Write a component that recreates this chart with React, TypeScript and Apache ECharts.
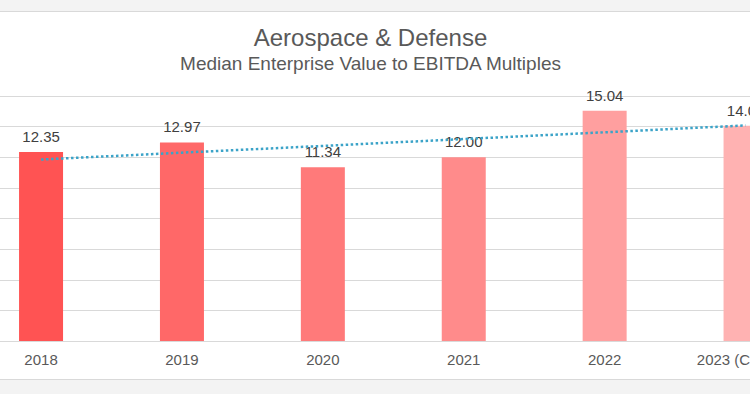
import React, { useEffect, useRef } from "react";
import * as echarts from "echarts";

const categories = ["2018", "2019", "2020", "2021", "2022", "2023 (Current)"];
const multiples = [12.35, 12.97, 11.34, 12.0, 15.04, 14.05];
const trendValues = [11.85, 12.3, 12.74, 13.19, 13.63, 14.08];
const barColors = ["#FF5353", "#FF6868", "#FF7A7A", "#FF8B8B", "#FF9F9F", "#FFB2B2"];
const yTicks = { min: 0, max: 16, interval: 2 };

const SHIFT = 60;
const CHART_W = 910;

export default function App() {
  const ref = useRef<HTMLDivElement>(null);
  useEffect(() => {
    document.body.style.margin = "0";
    const chart = echarts.init(ref.current!, undefined, { renderer: "svg" });
    const font = "'Liberation Sans', Arial, sans-serif";
    chart.setOption({
      animation: false,
      textStyle: { fontFamily: font },
      graphic: [
        {
          type: "text",
          x: 370.5 + SHIFT,
          y: 37,
          style: {
            text: "Aerospace & Defense",
            fill: "#595959",
            fontSize: 24,
            fontFamily: font,
            textAlign: "center",
            textVerticalAlign: "middle",
          },
        },
        {
          type: "text",
          x: 370.5 + SHIFT,
          y: 63.5,
          style: {
            text: "Median Enterprise Value to EBITDA Multiples",
            fill: "#595959",
            fontSize: 19,
            fontFamily: font,
            textAlign: "center",
            textVerticalAlign: "middle",
          },
        },
      ],
      grid: { left: 30.6, right: 34, top: 96, bottom: 53, containLabel: false },
      xAxis: {
        type: "category",
        data: categories,
        axisTick: { show: false },
        axisLine: { lineStyle: { color: "#d9d9d9", width: 1 } },
        axisLabel: { color: "#595959", fontSize: 15, margin: 11, fontFamily: font, interval: 0 },
      },
      yAxis: {
        type: "value",
        min: yTicks.min,
        max: yTicks.max,
        interval: yTicks.interval,
        axisLabel: { show: false },
        axisLine: { show: false },
        axisTick: { show: false },
        splitLine: { lineStyle: { color: "#d9d9d9", width: 1 } },
      },
      series: [
        {
          type: "bar",
          data: multiples.map((v, i) => ({ value: v, itemStyle: { color: barColors[i] } })),
          barWidth: 44,
          label: {
            show: true,
            position: "top",
            distance: 8,
            color: "#404040",
            fontSize: 15,
            fontFamily: font,
            formatter: (p: any) => p.value.toFixed(2),
          },
          z: 2,
        },
        {
          type: "line",
          data: trendValues,
          symbol: "none",
          lineStyle: { color: "#3BA3C8", width: 2.5, type: [2.5, 2.5] },
          z: 3,
        },
      ],
    });
    return () => chart.dispose();
  }, []);
  return (
    <div style={{ position: "relative", width: 750, height: 394, background: "#f3f3f3", overflow: "hidden" }}>
      <div
        style={{
          position: "absolute",
          left: -10,
          top: 11,
          width: 770,
          height: 367,
          background: "#ffffff",
          border: "1px solid #d9d9d9",
          borderRadius: 6,
        }}
      />
      <div ref={ref} style={{ position: "absolute", left: -SHIFT, top: 0, width: CHART_W, height: 394 }} />
    </div>
  );
}
